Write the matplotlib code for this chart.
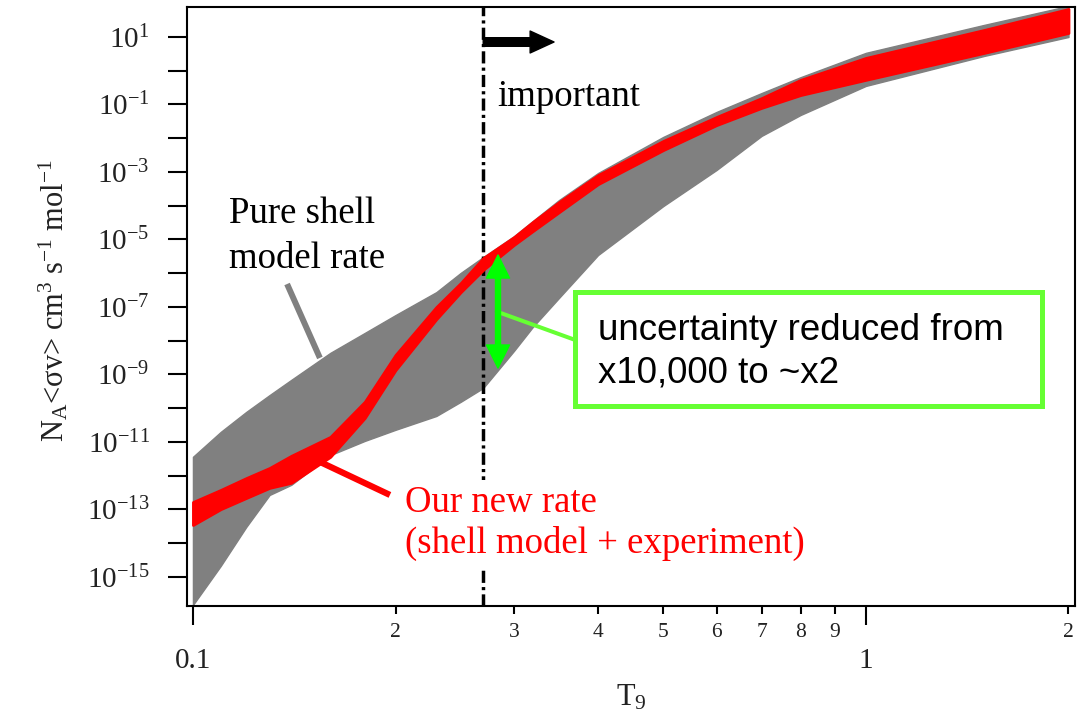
import numpy as np
import matplotlib.pyplot as plt
from matplotlib.patches import Rectangle
from matplotlib.ticker import FixedLocator, FixedFormatter, FuncFormatter, NullLocator

plt.rcParams['font.family'] = 'Liberation Serif'
plt.rcParams['mathtext.fontset'] = 'custom'
plt.rcParams['mathtext.rm'] = 'Liberation Serif'
plt.rcParams['mathtext.it'] = 'Liberation Serif:italic'
plt.rcParams['mathtext.bf'] = 'Liberation Serif:bold'

# Temperatura T9 y log10 de la tasa N_A<sv>
t9 = [0.1, 0.11, 0.12, 0.13, 0.14, 0.16, 0.18, 0.2, 0.23, 0.25, 0.27, 0.3,
      0.32, 0.35, 0.4, 0.5, 0.6, 0.7, 0.8, 1.0, 1.5, 2.0]

# Banda del modelo de capas puro
shell_hi = [-11.44, -10.70, -10.11, -9.61, -9.16, -8.36, -7.77, -7.24, -6.56,
            -5.99, -5.52, -4.90, -4.45, -3.83, -3.03, -1.96, -1.22, -0.66,
            -0.19, 0.53, 1.36, 1.92]
shell_lo = [-15.83, -14.67, -13.52, -12.57, -12.27, -11.39, -10.97, -10.64,
            -10.23, -9.81, -9.40, -8.30, -7.59, -6.73, -5.46, -4.01, -2.94,
            -1.93, -1.31, -0.45, 0.44, 1.00]

# Banda de la nueva tasa (modelo de capas + experimento)
new_hi = [-12.78, -12.42, -12.07, -11.77, -11.41, -10.85, -9.81, -8.42, -7.00,
          -6.29, -5.55, -4.93, -4.48, -3.89, -3.09, -2.08, -1.37, -0.81,
          -0.27, 0.38, 1.21, 1.83]
new_lo = [-13.46, -12.99, -12.66, -12.36, -12.21, -11.44, -10.29, -8.87, -7.36,
          -6.56, -5.90, -5.16, -4.75, -4.19, -3.36, -2.35, -1.61, -1.10,
          -0.72, -0.27, 0.53, 1.12]

# Ejes
x_major = [0.1, 1.0]
x_major_lab = ['0.1', '1']
x_minor = [0.2, 0.3, 0.4, 0.5, 0.6, 0.7, 0.8, 0.9, 2.0]
x_minor_lab = ['2', '3', '4', '5', '6', '7', '8', '9', '2']
y_exp = list(range(-15, 2))

t_important = 0.27   # umbral de temperatura relevante
t_err = 0.284        # posición de la flecha de incertidumbre

t9 = np.array(t9)
grey = '#808080'
green = '#00ff00'
light_green = '#66ff33'

fig = plt.figure(figsize=(10.83, 7.13), dpi=100)
ax = fig.add_axes([0.1727, 0.1501, 0.8199, 0.8394])
ax.set_xscale('log')
ax.set_yscale('log')

ax.fill_between(t9, 10 ** np.array(shell_lo), 10 ** np.array(shell_hi),
                facecolor=grey, edgecolor=grey, lw=1, zorder=2)
ax.fill_between(t9, 10 ** np.array(new_lo), 10 ** np.array(new_hi),
                facecolor='red', edgecolor='red', lw=2, joinstyle='round', zorder=4)

# Línea vertical discontinua
ax.axvline(t_important, color='k', lw=2.5, dashes=(3.5, 1.2, 0.9, 1.2), zorder=3)

# Flecha negra hacia la derecha
ax.annotate('', xy=(0.344, 7.1), xytext=(t_important, 7.1),
            arrowprops=dict(arrowstyle='simple,head_length=0.86,head_width=0.79,tail_width=0.31',
                            color='k', shrinkA=0, shrinkB=0, mutation_scale=20), zorder=6)
ax.text(0.283, 10 ** -1.04, 'important', fontsize=26.5, va='baseline', ha='left')

# Etiqueta del modelo de capas
ax.text(0.113, 10 ** -4.51, 'Pure shell', fontsize=26.5, va='baseline', ha='left')
ax.text(0.113, 10 ** -5.84, 'model rate', fontsize=26.5, va='baseline', ha='left')
ax.plot([0.138, 0.1544], [10 ** -6.32, 10 ** -8.51], color=grey, lw=4.3,
        solid_capstyle='butt', zorder=2)

# Etiqueta de la nueva tasa (con fondo blanco sobre la línea discontinua)
ax.plot([0.1544, 0.1962], [10 ** -11.59, 10 ** -12.57], color='red', lw=4.5,
        solid_capstyle='butt', zorder=4)
ax.text(0.2065, 10 ** -14.29, 'Our new rate\n(shell model + experiment)',
        fontsize=26.5, color='red', va='baseline', ha='left', linespacing=1.22,
        bbox=dict(facecolor='white', edgecolor='none', pad=4), zorder=5)

# Flecha doble verde (reducción de la incertidumbre)
mid = 10 ** -7.14
for tip in (10 ** -5.46, 10 ** -8.81):
    ax.annotate('', xy=(t_err, tip), xytext=(t_err, mid),
                arrowprops=dict(arrowstyle='simple,head_length=0.83,head_width=0.83,tail_width=0.18',
                                color=green, shrinkA=0, shrinkB=0, mutation_scale=20),
                zorder=7)
ax.plot([t_err, 0.3701], [10 ** -7.15, 10 ** -7.98], color=light_green, lw=2.9, zorder=6)

box = Rectangle((0.3701, 10 ** -9.92), 1.8297 - 0.3701, 10 ** -6.57 - 10 ** -9.92,
                facecolor='white', edgecolor=light_green, lw=3.6, zorder=6)
ax.add_patch(box)
ax.text(0.3998, 10 ** -7.98, 'uncertainty reduced from', fontsize=26.5,
        family='Liberation Sans', va='baseline', ha='left', zorder=7)
ax.text(0.3998, 10 ** -9.25, 'x10,000 to ~x2', fontsize=26.5,
        family='Liberation Sans', va='baseline', ha='left', zorder=7)

ax.set_xlim(0.098, 2.045)
ax.set_ylim(10 ** -15.86, 10 ** 1.874)

ax.xaxis.set_major_locator(FixedLocator(x_major))
ax.xaxis.set_major_formatter(FixedFormatter(x_major_lab))
ax.xaxis.set_minor_locator(FixedLocator(x_minor))
ax.xaxis.set_minor_formatter(FixedFormatter(x_minor_lab))
ax.yaxis.set_major_locator(FixedLocator([10.0 ** e for e in y_exp]))
ax.yaxis.set_major_formatter(FuncFormatter(
    lambda v, pos: '$\\mathrm{10^{%d}}$' % round(np.log10(v)) if round(np.log10(v)) % 2 else ''))
ax.yaxis.set_minor_locator(NullLocator())

ax.tick_params(axis='x', which='major', length=14, width=1.5, pad=16,
               labelsize=21, labelcolor='#222222')
ax.tick_params(axis='x', which='minor', length=6, width=1.5, pad=6,
               labelsize=15.5, labelcolor='#222222')
ax.tick_params(axis='y', which='major', length=14, width=1.5, pad=13,
               labelsize=21, labelcolor='#222222')
for s in ax.spines.values():
    s.set_linewidth(1.5)

ax.set_xlabel('T$_\\mathrm{9}$', fontsize=22, color='#222222')
ax.xaxis.set_label_coords(0.5, -0.128)
ax.set_ylabel('N$_\\mathrm{A}$<σv> cm$^\\mathrm{3}$ s$^\\mathrm{-1}$ mol$^\\mathrm{-1}$',
              fontsize=22, color='#222222')
ax.yaxis.set_label_coords(-0.1318, 0.511)

fig.savefig('out.png', dpi=100)
